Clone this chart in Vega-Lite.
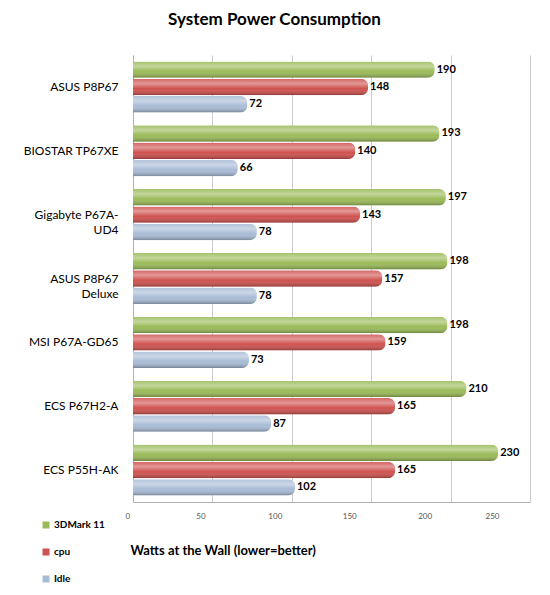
{
  "$schema": "https://vega.github.io/schema/vega-lite/v6.json",
  "autosize": "none",
  "width": 397,
  "height": 447,
  "padding": {"left": 133, "top": 55, "right": 20, "bottom": 93},
  "background": "white",
  "title": {
    "text": "System Power Consumption",
    "font": "Lato",
    "fontSize": 17,
    "fontWeight": "bold",
    "color": "black",
    "anchor": "middle",
    "frame": "group",
    "dx": -57,
    "offset": 26
  },
  "config": {
    "view": {"stroke": null},
    "font": "Lato"
  },
  "data": {
    "values": [
      {"model": "ASUS P8P67", "series": "3DMark 11", "watts": 190},
      {"model": "ASUS P8P67", "series": "cpu", "watts": 148},
      {"model": "ASUS P8P67", "series": "Idle", "watts": 72},
      {"model": "BIOSTAR TP67XE", "series": "3DMark 11", "watts": 193},
      {"model": "BIOSTAR TP67XE", "series": "cpu", "watts": 140},
      {"model": "BIOSTAR TP67XE", "series": "Idle", "watts": 66},
      {"model": "Gigabyte P67A-UD4", "series": "3DMark 11", "watts": 197},
      {"model": "Gigabyte P67A-UD4", "series": "cpu", "watts": 143},
      {"model": "Gigabyte P67A-UD4", "series": "Idle", "watts": 78},
      {"model": "ASUS P8P67 Deluxe", "series": "3DMark 11", "watts": 198},
      {"model": "ASUS P8P67 Deluxe", "series": "cpu", "watts": 157},
      {"model": "ASUS P8P67 Deluxe", "series": "Idle", "watts": 78},
      {"model": "MSI P67A-GD65", "series": "3DMark 11", "watts": 198},
      {"model": "MSI P67A-GD65", "series": "cpu", "watts": 159},
      {"model": "MSI P67A-GD65", "series": "Idle", "watts": 73},
      {"model": "ECS P67H2-A", "series": "3DMark 11", "watts": 210},
      {"model": "ECS P67H2-A", "series": "cpu", "watts": 165},
      {"model": "ECS P67H2-A", "series": "Idle", "watts": 87},
      {"model": "ECS P55H-AK", "series": "3DMark 11", "watts": 230},
      {"model": "ECS P55H-AK", "series": "cpu", "watts": 165},
      {"model": "ECS P55H-AK", "series": "Idle", "watts": 102}
    ]
  },
  "encoding": {
    "y": {
      "field": "model",
      "type": "nominal",
      "sort": null,
      "scale": {"paddingInner": 0.2, "paddingOuter": 0.1},
      "axis": {
        "title": null,
        "ticks": false,
        "domain": true,
        "domainColor": "#b0b0b0",
        "labelFontSize": 12,
        "labelColor": "black",
        "labelFont": "Lato",
        "labelPadding": 15,
        "labelLimit": 200,
        "labelLineHeight": 15,
        "labelExpr": "datum.label == 'Gigabyte P67A-UD4' ? ['Gigabyte P67A-', 'UD4'] : datum.label == 'ASUS P8P67 Deluxe' ? ['ASUS P8P67', 'Deluxe'] : datum.label"
      }
    },
    "yOffset": {
      "field": "series",
      "type": "nominal",
      "sort": ["3DMark 11", "cpu", "Idle"],
      "scale": {"paddingInner": 0.05}
    },
    "x": {
      "field": "watts",
      "type": "quantitative",
      "scale": {"domain": [0, 250], "nice": false},
      "axis": {
        "values": [0, 50, 100, 150, 200, 250],
        "ticks": false,
        "domain": true,
        "domainColor": "#b0b0b0",
        "gridColor": "#cccccc",
        "labelFontSize": 8,
        "labelColor": "#555555",
        "labelPadding": 10,
        "labelOffset": {
          "condition": [
            {"test": "datum.value == 0", "value": -8},
            {"test": "datum.value == 50", "value": -12},
            {"test": "datum.value == 100", "value": -17},
            {"test": "datum.value == 150", "value": -22},
            {"test": "datum.value == 200", "value": -26}
          ],
          "value": -31
        },
        "title": "Watts at the Wall (lower=better)",
        "titleFont": "Lato",
        "titleFontSize": 13,
        "titleFontWeight": "bold",
        "titleColor": "black",
        "titleAlign": "left",
        "titleAnchor": "start",
        "titleBaseline": "middle",
        "titleX": -3,
        "titleY": 48
      }
    }
  },
  "layer": [
    {
      "mark": {"type": "bar", "cornerRadiusEnd": 7},
      "encoding": {
        "color": {
          "field": "series",
          "type": "nominal",
          "sort": ["3DMark 11", "cpu", "Idle"],
          "scale": {
            "domain": ["3DMark 11", "cpu", "Idle"],
            "range": ["#9BBB59", "#CF5350", "#A9BCD6"]
          },
          "legend": {
            "title": null,
            "orient": "none",
            "legendX": -92,
            "legendY": 465,
            "symbolType": "square",
            "symbolSize": 49,
            "symbolStrokeWidth": 0,
            "labelFontSize": 10,
            "labelFontWeight": "bold",
            "labelColor": "black",
            "labelFont": "Lato",
            "labelOffset": 3,
            "rowPadding": 17
          }
        }
      }
    },
    {
      "mark": {
        "type": "bar",
        "cornerRadiusEnd": 7,
        "fill": {
          "gradient": "linear",
          "x1": 0, "y1": 0, "x2": 0, "y2": 1,
          "stops": [
            {"offset": 0, "color": "rgba(255,255,255,0.1)"},
            {"offset": 0.3, "color": "rgba(255,255,255,0.4)"},
            {"offset": 0.6, "color": "rgba(255,255,255,0)"},
            {"offset": 1, "color": "rgba(0,0,0,0.3)"}
          ]
        }
      },
      "encoding": {}
    },
    {
      "mark": {
        "type": "text",
        "align": "left",
        "baseline": "middle",
        "dx": 2,
        "fontSize": 11,
        "fontWeight": "bold",
        "font": "Lato",
        "color": "black"
      },
      "encoding": {
        "text": {"field": "watts", "type": "quantitative"}
      }
    }
  ]
}
